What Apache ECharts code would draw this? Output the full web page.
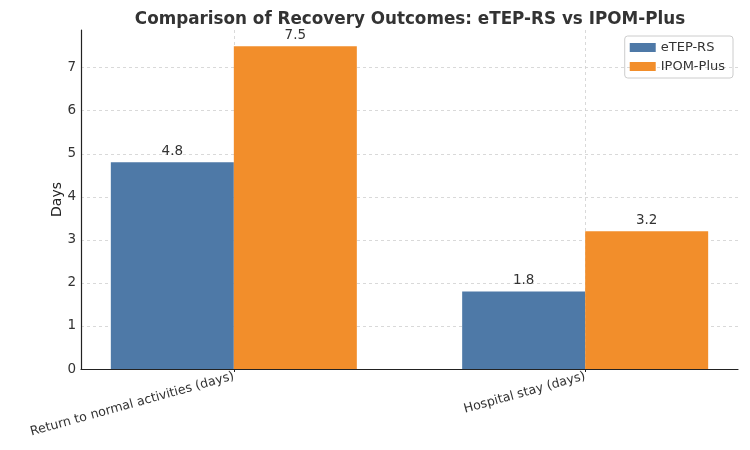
<!DOCTYPE html>
<html>
<head>
<meta charset="utf-8">
<script src="https://cdn.jsdelivr.net/npm/echarts@6/dist/echarts.min.js"></script>
<style>
  html, body { margin: 0; padding: 0; background: #fff; }
  #chart { width: 750px; height: 450px; }
</style>
</head>
<body>
<div id="chart"></div>
<script>
// categories and values
const categories = ['Return to normal activities (days)', 'Hospital stay (days)']
const etepValues = [4.8, 1.8]
const ipomValues = [7.5, 3.2]
const seriesNames = ['eTEP-RS', 'IPOM-Plus']
const yTicks = [0, 1, 2, 3, 4, 5, 6, 7]

const chart = echarts.init(document.getElementById('chart'))
const positions = categories.map((_, i) => i)

const fontFamily = 'DejaVu Sans, sans-serif'
const gridLine = { type: [3, 3], color: '#d0d0d0', width: 0.8 }

const option = {
  animation: false,
  textStyle: { fontFamily },
  title: {
    text: 'Comparison of Recovery Outcomes: eTEP-RS vs IPOM-Plus',
    left: 405,
    textAlign: 'center',
    top: 6,
    textStyle: { fontSize: 16.8, fontWeight: 'bold', color: '#333', fontFamily },
  },
  legend: {
    data: seriesNames,
    orient: 'vertical',
    right: 17,
    top: 36,
    itemWidth: 26,
    itemHeight: 9,
    itemGap: 6,
    padding: [5, 8, 5, 5],
    borderColor: '#ccc',
    borderWidth: 1,
    borderRadius: 3,
    icon: 'rect',
    textStyle: { fontSize: 13, color: '#333', fontFamily },
  },
  grid: { left: 81, right: 12, top: 30, bottom: 81 },
  xAxis: {
    type: 'value',
    min: -0.435,
    max: 1.435,
    axisLine: { show: true, onZero: false, lineStyle: { color: '#222', width: 1.2 } },
    axisTick: { show: true, length: 3, customValues: positions, lineStyle: { color: '#222' } },
    axisLabel: {
      customValues: positions,
      formatter: v => categories[Math.round(v)] || '',
      rotate: 15.5,
      fontSize: 12.6,
      color: '#333',
      margin: 7,
    },
    splitLine: { show: true, lineStyle: gridLine },
  },
  yAxis: {
    type: 'value',
    min: 0,
    max: 7.875,
    interval: 1,
    name: 'Days',
    nameLocation: 'middle',
    nameGap: 17,
    nameMoveOverlap: false,
    nameTextStyle: { fontSize: 14, color: '#222' },
    axisLine: { show: true, onZero: false, lineStyle: { color: '#222', width: 1.2 } },
    axisTick: { show: false },
    axisLabel: {
      fontSize: 13.5,
      color: '#333',
      margin: 5,
      formatter: v => (yTicks.includes(v) ? String(v) : ''),
    },
    splitLine: { show: true, showMaxLine: false, showMinLine: false, lineStyle: gridLine },
  },
  series: [
    {
      name: seriesNames[0],
      type: 'bar',
      data: positions.map(i => [i, etepValues[i]]),
      barWidth: 123,
      barGap: '0%',
      itemStyle: { color: '#4e79a7' },
      label: { show: true, position: 'top', distance: 4, fontSize: 13.5, color: '#333', formatter: p => p.value[1].toFixed(1) },
    },
    {
      name: seriesNames[1],
      type: 'bar',
      data: positions.map(i => [i, ipomValues[i]]),
      barWidth: 123,
      barGap: '0%',
      itemStyle: { color: '#f28e2b' },
      label: { show: true, position: 'top', distance: 4, fontSize: 13.5, color: '#333', formatter: p => p.value[1].toFixed(1) },
    },
  ],
}

chart.setOption(option)
</script>
</body>
</html>
